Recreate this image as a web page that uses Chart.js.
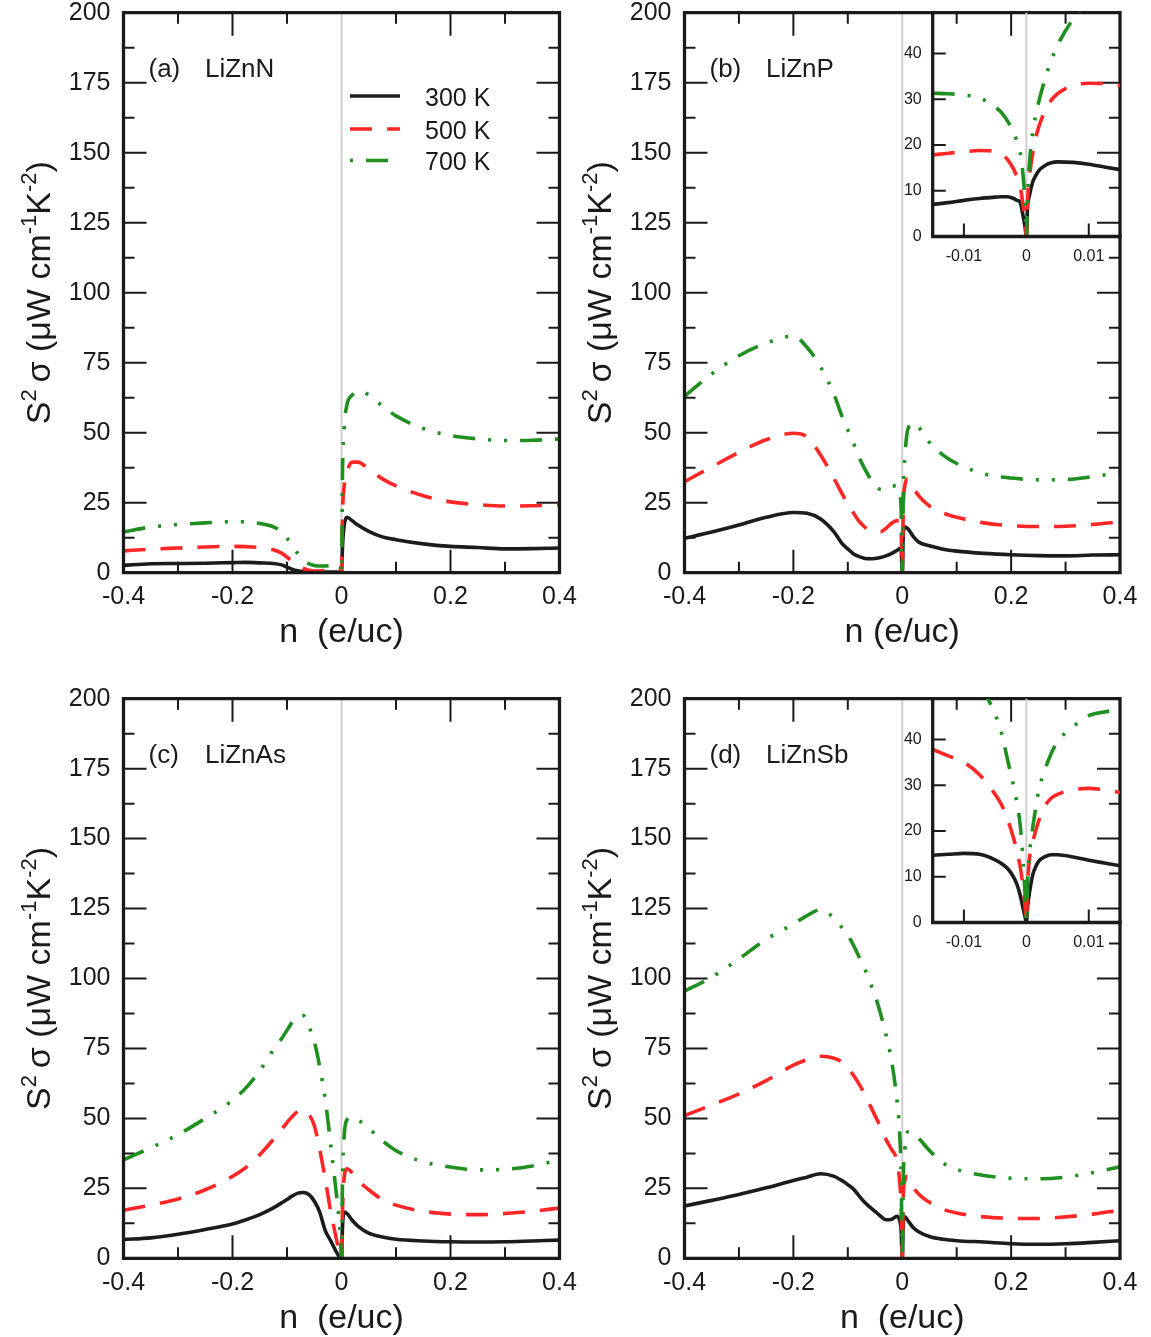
<!DOCTYPE html>
<html>
<head>
<meta charset="utf-8">
<title>Power factor of LiZnX</title>
<script src="https://cdn.jsdelivr.net/npm/chart.js@4.4.1/dist/chart.umd.min.js"></script>
<style>
  html, body { margin: 0; padding: 0; background: #ffffff; }
  #wrap { position: relative; width: 1151px; height: 1337px; overflow: hidden; background: #ffffff; }
  #wrap canvas { position: absolute; left: 0; top: 0; }
</style>
</head>
<body>
<div id="wrap"></div>
<script>
// ---------------- data ----------------
const temps = ['300 K', '500 K', '700 K'];

// carrier concentration n (e/uc) for the full-range panels
const nMain = [-0.4, -0.35, -0.3, -0.25, -0.2, -0.175, -0.15, -0.125, -0.11, -0.1,
  -0.09, -0.08, -0.07, -0.06, -0.05, -0.04, -0.03, -0.02, -0.01, -0.005,
  -0.002, 0, 0.002, 0.005, 0.01, 0.02, 0.03, 0.05, 0.075, 0.1,
  0.15, 0.2, 0.25, 0.3, 0.35, 0.4];

// S^2 sigma (uW cm^-1 K^-2)
const liZnN300 = [2.6, 3.2, 3.3, 3.4, 3.6, 3.7, 3.5, 3.3, 2.8, 2.0,
  1.2, 0.7, 0.4, 0.3, 0.2, 0.2, 0.2, 0.2, 0.2, 0.2,
  0.1, 0, 10, 17, 19.8, 18.5, 17, 14.8, 12.8, 11.8,
  10.3, 9.4, 9.0, 8.5, 8.6, 8.8];
const liZnN500 = [7.8, 8.4, 8.8, 9.2, 9.4, 9.3, 9.0, 8.2, 7.0, 5.6,
  4.0, 2.6, 1.5, 0.9, 0.6, 0.6, 0.8, 1.1, 1.5, 1.7,
  1.5, 0, 22, 31, 36, 39.5, 39.5, 37, 33.5, 31,
  27.5, 25.3, 24.3, 23.8, 23.9, 24.2];
const liZnN700 = [14.6, 16.3, 17.2, 17.8, 18.2, 18.1, 17.6, 16.4, 14.6, 12.3,
  9.5, 6.8, 4.6, 3.2, 2.6, 2.4, 2.4, 2.6, 2.8, 2.9,
  2.5, 0, 38, 52, 60, 63.5, 64.8, 63.5, 59.5, 56,
  51.5, 49, 47.8, 47.2, 47.3, 47.8];

const liZnP300 = [12.3, 14.5, 17, 19.8, 21.5, 21.2, 19.2, 14.5, 10.3, 8.5,
  6.8, 5.8, 5.2, 5.0, 5.1, 5.4, 6.0, 6.8, 7.9, 8.6,
  8.3, 0, 14.3, 16.3, 15.8, 13, 11, 9.6, 8.4, 7.7,
  6.9, 6.4, 6.1, 6.0, 6.3, 6.4];
const liZnP500 = [32.5, 37.8, 43, 47.5, 49.8, 48.5, 42, 33.5, 28, 24.5,
  21.5, 18.5, 16.5, 15.0, 14.5, 14.6, 15.8, 17.6, 18.6, 18.6,
  14.6, 0, 24, 31.2, 33.5, 30.5, 27.5, 23.8, 21.3, 19.8,
  17.8, 16.8, 16.5, 16.6, 17.2, 18.2];
const liZnP700 = [63, 71, 77.5, 82, 84.5, 80.5, 73.5, 63.5, 55.5, 51,
  46.5, 41.5, 37.5, 34, 31.2, 29.8, 29.8, 31, 30.9, 28.3,
  22.6, 0, 29.5, 41.8, 51, 53.5, 52, 46.5, 42, 39,
  35.3, 33.8, 33.2, 33.3, 34.3, 35.8];

const liZnAs300 = [6.7, 7.3, 8.6, 10.3, 12.3, 13.8, 15.6, 18, 19.8, 21,
  22.3, 23.3, 23.5, 22.8, 20.5, 16.5, 10, 6.3, 2.5, 0.8,
  0.3, 0, 12, 16.5, 16, 13.5, 11.5, 9, 7.6, 6.8,
  6.2, 5.9, 5.8, 5.9, 6.2, 6.5];
const liZnAs500 = [17.2, 19, 21.2, 24.5, 29.3, 32.5, 37, 42.5, 46, 48.5,
  50.8, 52.5, 53, 51.5, 47.5, 39, 28.5, 17, 7.5, 3,
  1, 0, 18, 29, 32, 30.5, 28, 24.5, 21, 19,
  16.8, 15.8, 15.6, 16, 16.8, 18];
const liZnAs700 = [35.2, 39.5, 44.2, 50, 56.5, 61, 67, 74.5, 78.5, 81.5,
  84.5, 86.5, 86.8, 83, 77.5, 68.5, 57, 41, 24, 15,
  7, 0, 30, 44, 49.5, 50.5, 49.5, 46.5, 42, 38.5,
  34.5, 32.6, 31.6, 31.8, 33, 35.2];

const liZnSb300 = [18.7, 20.7, 22.8, 25.2, 27.8, 29, 30.2, 29.3, 27.7, 26.3,
  24.8, 22.5, 20.2, 18.4, 16.8, 15.1, 13.8, 13.9, 15, 13.7,
  9.8, 0, 13.4, 14.8, 13.6, 11, 9.5, 7.8, 6.8, 6.3,
  5.8, 5.2, 5.0, 5.2, 5.7, 6.3];
const liZnSb500 = [51, 54.8, 58.8, 63.5, 69, 71, 72.2, 71.5, 70, 68,
  65.5, 62.5, 59, 55, 51, 47, 42.5, 39, 35, 28,
  18.2, 0, 22.3, 28, 29.3, 25.5, 23, 20, 17.5, 16.2,
  14.8, 14.3, 14.2, 14.8, 15.8, 17.2];
const liZnSb700 = [95.5, 100.5, 107, 114, 119.5, 122.5, 124.6, 121.5, 118, 115.5,
  112, 108, 104, 99, 94, 87.5, 80, 71, 57, 45.5,
  29.5, 0, 29, 39.5, 45.2, 45, 43, 38.5, 34, 31.8,
  29.6, 28.6, 28.4, 29, 30.6, 32.7];

// close-up around n = 0 for the inset plots
const nInset = [-0.015, -0.0125, -0.01, -0.0075, -0.005, -0.004, -0.003, -0.002, -0.0015, -0.001,
  -0.0005, -0.0002, 0, 0.0002, 0.0005, 0.001, 0.0015, 0.002, 0.003, 0.004,
  0.005, 0.0075, 0.01, 0.0125, 0.015];

const liZnPZoom300 = [7, 7.4, 7.9, 8.3, 8.6, 8.7, 8.7, 8.3, 7.9, 7.5,
  4.3, 2, 0, 6.5, 9, 11.8, 13.3, 14.4, 15.5, 16.1,
  16.3, 16.2, 15.8, 15.2, 14.6];
const liZnPZoom500 = [17.8, 18.2, 18.5, 18.8, 18.6, 18, 16.8, 14.6, 13, 11,
  6.5, 3, 0, 8, 13, 18, 21.5, 24, 27.5, 29.8,
  31.2, 33, 33.5, 33.4, 33];
const liZnPZoom700 = [31.3, 31.2, 30.9, 30.3, 28.3, 27.1, 25.2, 22.6, 20.8, 18.5,
  13, 7, 0, 9, 16, 22.5, 26.5, 29.5, 34.5, 38.5,
  41.8, 47.5, 51, 53.5, 55];

const liZnSbZoom300 = [14.7, 14.9, 15.1, 14.9, 13.7, 12.9, 11.8, 9.8, 8.3, 6,
  3, 1.2, 0, 3.5, 6.5, 10.3, 12.2, 13.4, 14.4, 14.8,
  14.8, 14.3, 13.6, 13, 12.4];
const liZnSbZoom500 = [37.8, 36.4, 35, 32.3, 28, 25.8, 22.5, 18.2, 15.5, 12.3,
  7.5, 3.5, 0, 8, 14, 17.5, 20, 22.3, 25.5, 27.2,
  28, 29, 29.3, 29, 28.4];
const liZnSbZoom700 = [62, 59, 56, 52, 45.5, 41.5, 35.5, 29.5, 26, 21.5,
  13, 6, 0, 9, 15, 20.5, 25, 29, 33.5, 37,
  39.5, 42.8, 45.2, 46, 46.5];

// tick values
const mainXTicks = [-0.4, -0.3, -0.2, -0.1, 0, 0.1, 0.2, 0.3, 0.4];
const mainYTicks = [0, 12.5, 25, 37.5, 50, 62.5, 75, 87.5, 100, 112.5, 125, 137.5, 150, 162.5, 175, 187.5, 200];
const insetXTicks = [-0.01, 0, 0.01];
const insetYTicks = [0, 10, 20, 30, 40];

// ---------------- styles ----------------
const PAGE_W = 1151, PAGE_H = 1337;
const FONT = '"Liberation Sans", Arial, Helvetica, sans-serif';
const INK = '#1a1a1a';
const lineColors = ['#1c1c1c', '#ff2626', '#1f8f1f'];
const lineDashes = [[], [22, 15], [22, 13, 3, 13, 3, 13]];
const legendDashOffset = [0, 0, 51];
const LINE_W = 3.6;

const yTitleParts = [['S', 0], ['2', 1], ['\u2009\u03c3 (\u03bcW cm', 0], ['-1', 1], ['K', 0], ['-2', 1], [')', 0]];

const panels = [
  { tag: '(a)', name: 'LiZnN', xTitle: 'n  (e/uc)', left: 123.5, right: 559.5, top: 12.7, bottom: 572.7,
    series: [liZnN300, liZnN500, liZnN700], legend: true },
  { tag: '(b)', name: 'LiZnP', xTitle: 'n (e/uc)', left: 684.5, right: 1120, top: 12.7, bottom: 572.7,
    series: [liZnP300, liZnP500, liZnP700] },
  { tag: '(c)', name: 'LiZnAs', xTitle: 'n  (e/uc)', left: 123.5, right: 559.5, top: 698.7, bottom: 1258.3,
    series: [liZnAs300, liZnAs500, liZnAs700] },
  { tag: '(d)', name: 'LiZnSb', xTitle: 'n  (e/uc)', left: 684.5, right: 1120, top: 698.7, bottom: 1258.3,
    series: [liZnSb300, liZnSb500, liZnSb700] }
];

const insets = [
  { left: 932.7, right: 1120, top: 12.7, bottom: 236.5, series: [liZnPZoom300, liZnPZoom500, liZnPZoom700] },
  { left: 932.7, right: 1120, top: 698.7, bottom: 922.5, series: [liZnSbZoom300, liZnSbZoom500, liZnSbZoom700] }
];

// ---------------- helpers ----------------
function isMultiple(v, step) {
  const r = v / step;
  return Math.abs(r - Math.round(r)) < 1e-6;
}

function drawRich(ctx, parts, x, y, size) {
  let cx = x;
  for (const [txt, sup] of parts) {
    ctx.font = (sup ? Math.round(size * 0.64) : size) + 'px ' + FONT;
    ctx.fillText(txt, cx, sup ? y - size * 0.42 : y);
    cx += ctx.measureText(txt).width;
  }
  return cx - x;
}

function richWidth(ctx, parts, size) {
  let w = 0;
  for (const [txt, sup] of parts) {
    ctx.font = (sup ? Math.round(size * 0.64) : size) + 'px ' + FONT;
    w += ctx.measureText(txt).width;
  }
  return w;
}

function fixTicks(values) {
  return s => { s.ticks = values.map(v => ({ value: v })); };
}

// keep the plot area exactly where the layout padding puts it
function fixBox(prop, size) {
  return s => {
    s[prop] = size;
    s.paddingTop = 0; s.paddingBottom = 0; s.paddingLeft = 0; s.paddingRight = 0;
  };
}

// frame, inward ticks, zero line, titles and legend
const framePlugin = {
  id: 'frame',
  beforeDatasetsDraw(chart, _args, o) {
    const { ctx, chartArea: a } = chart;
    const xs = chart.scales.x, ys = chart.scales.y;
    ctx.save();
    // vertical reference line at n = 0
    const x0 = xs.getPixelForValue(0);
    ctx.strokeStyle = '#d0d0d0';
    ctx.lineWidth = 2;
    ctx.beginPath();
    ctx.moveTo(x0, a.top);
    ctx.lineTo(x0, a.bottom);
    ctx.stroke();
    // tick marks pointing into the plot
    ctx.strokeStyle = INK;
    ctx.lineWidth = 2;
    ctx.beginPath();
    for (const t of xs.ticks) {
      if (Math.abs(t.value) < 1e-9) continue;
      const major = isMultiple(t.value, o.xMajor);
      const len = major ? o.majorLen : o.minorLen;
      if (!len) continue;
      const px = xs.getPixelForValue(t.value);
      ctx.moveTo(px, a.bottom);
      ctx.lineTo(px, a.bottom - len);
      if (o.mirror) {
        ctx.moveTo(px, a.top);
        ctx.lineTo(px, a.top + len);
      }
    }
    for (const t of ys.ticks) {
      const major = isMultiple(t.value, o.yMajor);
      const len = major ? o.majorLen : o.minorLen;
      if (!len) continue;
      const py = ys.getPixelForValue(t.value);
      ctx.moveTo(a.left, py);
      ctx.lineTo(a.left + len, py);
      if (o.mirror) {
        ctx.moveTo(a.right, py);
        ctx.lineTo(a.right - len, py);
      }
    }
    ctx.stroke();
    ctx.restore();
  },
  afterDatasetsDraw(chart, _args, o) {
    const { ctx, chartArea: a } = chart;
    ctx.save();
    ctx.strokeStyle = INK;
    ctx.lineWidth = o.borderWidth;
    ctx.lineCap = 'square';
    ctx.beginPath();
    if (o.fullBox) {
      ctx.rect(a.left, a.top, a.right - a.left, a.bottom - a.top);
    } else {
      ctx.moveTo(a.left, a.top);
      ctx.lineTo(a.left, a.bottom);
      ctx.lineTo(a.right, a.bottom);
    }
    ctx.stroke();
    ctx.restore();
  },
  afterDraw(chart, _args, o) {
    if (!o.texts) return;
    const { ctx, chartArea: a } = chart;
    ctx.save();
    ctx.fillStyle = INK;
    ctx.textBaseline = 'alphabetic';
    // x axis title
    ctx.font = '34px ' + FONT;
    ctx.textAlign = 'center';
    ctx.fillText(o.xTitle, (a.left + a.right) / 2, a.bottom + 69.5);
    // y axis title, rotated, with superscripts
    ctx.textAlign = 'left';
    const size = 34;
    const w = richWidth(ctx, yTitleParts, size);
    ctx.save();
    ctx.translate(a.left - 73.5, (a.top + a.bottom) / 2);
    ctx.rotate(-Math.PI / 2);
    drawRich(ctx, yTitleParts, -w / 2, 0, size);
    ctx.restore();
    // panel tag and compound
    ctx.font = '26px ' + FONT;
    ctx.fillText(o.tag, a.left + 25, a.top + 64);
    ctx.fillText(o.name, a.left + 81.5, a.top + 64);
    // legend
    if (o.legend) {
      const rows = [83.3, 116.3, 147.8];
      chart.data.datasets.forEach((ds, i) => {
        const y = a.top + rows[i];
        ctx.save();
        ctx.strokeStyle = ds.borderColor;
        ctx.lineWidth = LINE_W;
        ctx.lineCap = 'butt';
        ctx.setLineDash(ds.borderDash);
        ctx.lineDashOffset = legendDashOffset[i];
        ctx.beginPath();
        ctx.moveTo(a.left + 226.5, y);
        ctx.lineTo(a.left + 276.5, y);
        ctx.stroke();
        ctx.restore();
        ctx.font = '25px ' + FONT;
        ctx.fillText(ds.label, a.left + 301.5, y + 9.5);
      });
    }
    ctx.restore();
  }
};

function buildDatasets(xs, seriesList) {
  return seriesList.map((ys, i) => ({
    label: temps[i],
    data: xs.map((x, j) => ({ x: x, y: ys[j] })),
    borderColor: lineColors[i],
    borderWidth: LINE_W,
    borderDash: lineDashes[i],
    borderCapStyle: 'butt',
    borderJoinStyle: 'round',
    pointRadius: 0,
    pointHoverRadius: 0,
    fill: false,
    cubicInterpolationMode: 'monotone',
    order: 3 - i
  }));
}

function newCanvas() {
  const c = document.createElement('canvas');
  c.width = PAGE_W;
  c.height = PAGE_H;
  c.style.width = PAGE_W + 'px';
  c.style.height = PAGE_H + 'px';
  document.getElementById('wrap').appendChild(c);
  return c;
}

const noGrid = { display: false, drawTicks: false };
const Y_BOX = 110, X_BOX = 80;

function mainChart(p) {
  return new Chart(newCanvas(), {
    type: 'line',
    data: { datasets: buildDatasets(nMain, p.series) },
    options: {
      responsive: false,
      animation: false,
      devicePixelRatio: 1,
      events: [],
      layout: { padding: { left: p.left - Y_BOX, right: PAGE_W - p.right, top: p.top, bottom: PAGE_H - p.bottom - X_BOX } },
      plugins: {
        legend: { display: false },
        tooltip: { enabled: false },
        frame: { texts: true, xTitle: p.xTitle, tag: p.tag, name: p.name, legend: !!p.legend,
          xMajor: 0.2, yMajor: 25, majorLen: 23, minorLen: 11, mirror: true, fullBox: true, borderWidth: 3.3 }
      },
      scales: {
        x: {
          type: 'linear', min: -0.4, max: 0.4,
          grid: noGrid, border: { display: false },
          afterBuildTicks: fixTicks(mainXTicks),
          ticks: {
            autoSkip: false, maxRotation: 0,
            padding: 12, color: INK, font: { family: FONT, size: 25, lineHeight: 1 },
            callback: v => { const k = Math.round(v * 10); return k % 2 ? '' : (k === 0 ? '0' : (k / 10).toString()); }
          },
          afterFit: fixBox('height', X_BOX)
        },
        y: {
          type: 'linear', min: 0, max: 200,
          grid: noGrid, border: { display: false },
          afterBuildTicks: fixTicks(mainYTicks),
          ticks: {
            autoSkip: false,
            padding: 13, color: INK, font: { family: FONT, size: 25, lineHeight: 1 },
            callback: v => (isMultiple(v, 25) ? String(Math.round(v)) : '')
          },
          afterFit: fixBox('width', Y_BOX)
        }
      }
    },
    plugins: [framePlugin]
  });
}

const YI_BOX = 40, XI_BOX = 40;

function insetChart(p) {
  return new Chart(newCanvas(), {
    type: 'line',
    data: { datasets: buildDatasets(nInset, p.series) },
    options: {
      responsive: false,
      animation: false,
      devicePixelRatio: 1,
      events: [],
      layout: { padding: { left: p.left - YI_BOX, right: PAGE_W - p.right, top: p.top, bottom: PAGE_H - p.bottom - XI_BOX } },
      plugins: {
        legend: { display: false },
        tooltip: { enabled: false },
        frame: { texts: false, xMajor: 0.01, yMajor: 10, majorLen: 13, minorLen: 0, mirror: false, fullBox: false, borderWidth: 3.3 }
      },
      scales: {
        x: {
          type: 'linear', min: -0.015, max: 0.015,
          grid: noGrid, border: { display: false },
          afterBuildTicks: fixTicks(insetXTicks),
          ticks: {
            autoSkip: false, maxRotation: 0,
            padding: 12, color: INK, font: { family: FONT, size: 16, lineHeight: 1 },
            callback: v => { const k = Math.round(v * 100); return k === 0 ? '0' : (k / 100).toString(); }
          },
          afterFit: fixBox('height', XI_BOX)
        },
        y: {
          type: 'linear', min: 0, max: 48.9,
          grid: noGrid, border: { display: false },
          afterBuildTicks: fixTicks(insetYTicks),
          ticks: {
            autoSkip: false,
            padding: 11, color: INK, font: { family: FONT, size: 16, lineHeight: 1 },
            callback: v => String(Math.round(v))
          },
          afterFit: fixBox('width', YI_BOX)
        }
      }
    },
    plugins: [framePlugin]
  });
}

panels.forEach(mainChart);
insets.forEach(insetChart);
</script>
</body>
</html>
